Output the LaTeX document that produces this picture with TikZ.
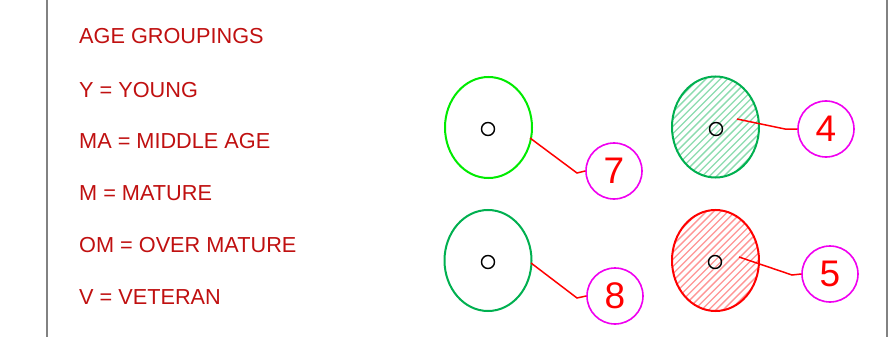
\documentclass[tikz,border=0pt]{standalone}
\usepackage{fontspec}
\setmainfont{Liberation Sans}
\usetikzlibrary{shapes.geometric}
\definecolor{txtred}{RGB}{192,16,16}
\definecolor{brightgreen}{RGB}{0,235,0}
\definecolor{midgreen}{RGB}{0,176,80}
\definecolor{hatchgreen}{RGB}{140,220,175}
\definecolor{hatchred}{RGB}{255,150,150}
\definecolor{mag}{RGB}{240,0,240}
\definecolor{bordergray}{RGB}{130,130,130}
\begin{document}
\begin{tikzpicture}[x=1pt,y=-1pt,
  legend/.style={anchor=base west,inner sep=0pt,text=txtred,font=\fontsize{21.7}{21.7}\selectfont},
  tree/.style={ellipse,line width=2pt,minimum width=87pt,minimum height=101pt,inner sep=0pt},
  stem/.style={circle,draw=black,line width=1.4pt,minimum size=13pt,inner sep=0pt},
  tag/.style={circle,draw=mag,line width=1.6pt,minimum size=56pt,inner sep=0pt,text=red,font=\fontsize{37}{37}\selectfont},
  leader/.style={draw=red,line width=1.5pt}]
\useasboundingbox (0,0) rectangle (892,337);
\fill[white] (0,0) rectangle (892,337);
\draw[bordergray,line width=2.2pt] (47,0) -- (47,337);
\draw[bordergray,line width=2.2pt] (887,0) -- (887,337);

\node[legend] (t0) at (79,44) {AGE GROUPINGS};
\node[legend] (t1) at (79,97) {Y = YOUNG};
\node[legend] (t2) at (79,148) {MA = MIDDLE AGE};
\node[legend] (t3) at (79,200) {M = MATURE};
\node[legend] (t4) at (79,252) {OM = OVER MATURE};
\node[legend] (t5) at (79,304) {V = VETERAN};

% hatching
\begin{scope}
  \clip (715.5,127) ellipse [x radius=43.5, y radius=51];
  \foreach \i in {-30,...,30} {
    \draw[hatchgreen,line width=1.3pt] (715.5+7.2*\i-60,187) -- (715.5+7.2*\i+60,67);
  }
\end{scope}
\begin{scope}
  \clip (715.5,260.5) ellipse [x radius=43.5, y radius=50.5];
  \foreach \i in {-30,...,30} {
    \draw[hatchred,line width=1.3pt] (715.5+7.2*\i-60,320) -- (715.5+7.2*\i+60,200);
  }
\end{scope}

\node[tree,draw=brightgreen] (e7) at (488.5,127.5) {};
\node[tree,draw=midgreen] (e4) at (715.5,127) {};
\node[tree,draw=midgreen] (e8) at (488,260.5) {};
\node[tree,draw=red] (e5) at (715.5,260.5) {};

\node[stem] (s7) at (488,129) {};
\node[stem] (s4) at (716,129) {};
\node[stem] (s8) at (488,262) {};
\node[stem] (s5) at (715,262) {};

\node[tag] (n7) at (614,171) {7};
\node[tag] (n4) at (826,129) {4};
\node[tag] (n8) at (615,296) {8};
\node[tag] (n5) at (830,274) {5};

\coordinate (p7) at (530,138);
\coordinate (p4) at (737,119);
\coordinate (p8) at (531,263);
\coordinate (p5) at (739,257);

\draw[leader] (p7) -- (577,173) -- (n7.west);
\draw[leader] (p4) -- (785,129) -- (n4.west);
\draw[leader] (p8) -- (577,298) -- (n8.west);
\draw[leader] (p5) -- (792,275) -- (n5.west);
\end{tikzpicture}
\end{document}
